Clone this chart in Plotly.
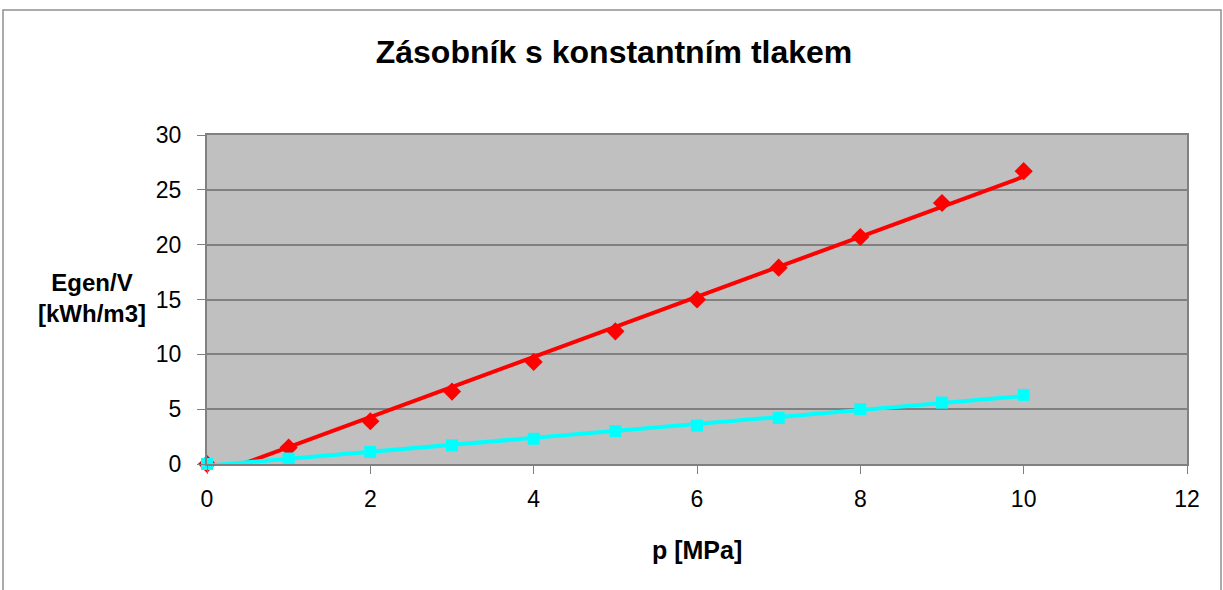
import numpy as np
import plotly.graph_objects as go

p_mpa = [0, 1, 2, 3, 4, 5, 6, 7, 8, 9, 10]
red_vals = [0, 1.5, 3.9, 6.6, 9.3, 12.1, 15.0, 17.9, 20.7, 23.8, 26.7]
cyan_vals = [0, 0.5, 1.1, 1.7, 2.3, 3.0, 3.5, 4.2, 5.0, 5.6, 6.3]

title_text = "Zásobník s konstantním tlakem"
x_title = "p [MPa]"
y_title = "Egen/V<br>[kWh/m3]"

W, H = 1223, 590
L, R, T, B = 207, 36, 135, 126
PW, PH = W - L - R, H - T - B

fig = go.Figure()

def trend(xs, ys):
    k, q = np.polyfit(xs, ys, 1)
    xx = np.array([xs[0], xs[-1]], dtype=float)
    return xx, k * xx + q

for ys, col, sym, sz in [(red_vals, "#FF0000", "diamond", 14), (cyan_vals, "#00FFFF", "square", 12)]:
    tx, ty = trend(p_mpa, ys)
    fig.add_trace(go.Scatter(x=p_mpa, y=ys, mode="markers",
                             marker=dict(symbol=sym, size=sz, color=col, line=dict(width=0)),
                             showlegend=False, cliponaxis=False))
    fig.add_trace(go.Scatter(x=tx, y=ty, mode="lines",
                             line=dict(color=col, width=4), showlegend=False))

font = "Liberation Sans, Arial, sans-serif"
fig.update_layout(
    width=W, height=H,
    margin=dict(l=L, r=R, t=T, b=B),
    paper_bgcolor="white",
    plot_bgcolor="#C0C0C0",
    font=dict(family=font, size=23, color="black"),
    title=dict(text="<b>" + title_text + "</b>", x=614 / W, xanchor="center",
               y=1 - 52 / H, yanchor="middle", font=dict(size=32, family=font)),
    xaxis=dict(range=[0, 12], tickvals=[0, 2, 4, 6, 8, 10, 12], ticks="outside",
               ticklen=8, tickcolor="#808080", showgrid=False, zeroline=False,
               showline=True, linecolor="#808080", linewidth=2, mirror=True,
               tickfont=dict(size=23), ticklabelstandoff=5),
    yaxis=dict(range=[0, 30], tickvals=[0, 5, 10, 15, 20, 25, 30], ticks="outside",
               ticklen=8, tickcolor="#808080", showgrid=True, gridcolor="#808080",
               gridwidth=1.5, zeroline=False, showline=True, linecolor="#808080",
               linewidth=2, mirror=True, tickfont=dict(size=23), ticklabelstandoff=11),
    annotations=[
        dict(text="<b>" + y_title + "</b>", xref="paper", yref="paper",
             x=(92 - L) / PW, y=1 - (298 - T) / PH,
             xanchor="center", yanchor="middle", showarrow=False,
             font=dict(size=24, family=font)),
        dict(text="<b>" + x_title + "</b>", xref="paper", yref="paper",
             x=(697 - L) / PW, y=1 - (550 - T) / PH,
             xanchor="center", yanchor="middle", showarrow=False,
             font=dict(size=25, family=font)),
    ],
    shapes=[dict(type="rect", xref="paper", yref="paper",
                 x0=(3 - L) / PW, x1=(1221 - L) / PW,
                 y0=1 + (T - 10) / PH, y1=-(B + 20) / PH,
                 line=dict(color="#909090", width=1.5), layer="below")],
)

fig.write_html("out.html", config={"displayModeBar": False},
               post_script="document.body.style.margin='0';")
